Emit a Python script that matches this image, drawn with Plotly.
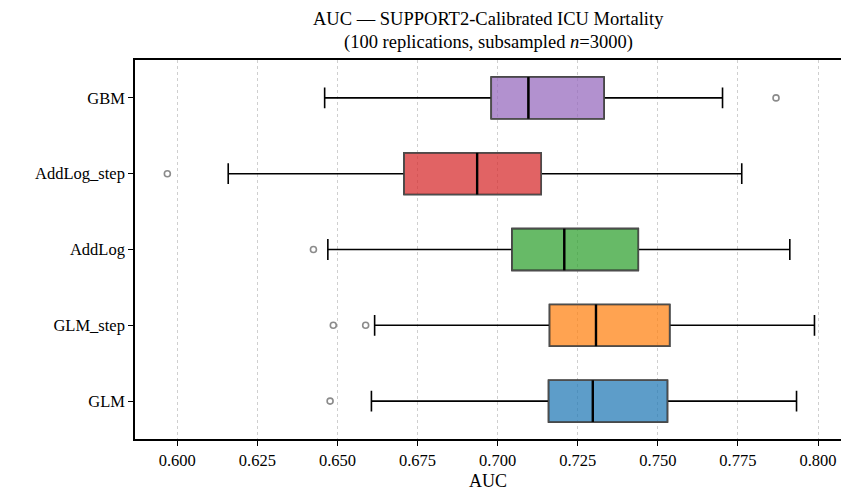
import plotly.graph_objects as go

# Models, bottom to top
models = ["GLM", "GLM_step", "AddLog", "AddLog_step", "GBM"]
colors = ["31,119,180", "255,127,14", "44,160,44", "214,39,40", "148,103,189"]

# Box statistics of AUC across replications
q1 = [0.7159, 0.7162, 0.7045, 0.6708, 0.6980]
median = [0.7297, 0.7307, 0.7208, 0.6936, 0.7096]
q3 = [0.7530, 0.7537, 0.7439, 0.7136, 0.7332]
lower_whisker = [0.6606, 0.6616, 0.6470, 0.6159, 0.6460]
upper_whisker = [0.7933, 0.7989, 0.7912, 0.7762, 0.7702]

# Outlying replications (model index, AUC)
outlier_model = [0, 1, 1, 2, 3, 4]
outlier_auc = [0.6477, 0.6487, 0.6588, 0.6425, 0.5969, 0.7869]

xticks = [0.600, 0.625, 0.650, 0.675, 0.700, 0.725, 0.750, 0.775, 0.800]

title_lines = ["AUC — SUPPORT2-Calibrated ICU Mortality",
               "(100 replications, subsampled <i>n</i>=3000)"]

BOX_W = 0.55
FONT = "Liberation Serif"

fig = go.Figure()
positions = list(range(1, len(models) + 1))

for i, pos in enumerate(positions):
    # whiskers and caps
    fig.add_trace(go.Box(
        y=[pos], q1=[q1[i]], median=[median[i]], q3=[q3[i]],
        lowerfence=[lower_whisker[i]], upperfence=[upper_whisker[i]],
        orientation="h", width=BOX_W, whiskerwidth=0.5,
        fillcolor="rgba(0,0,0,0)", line=dict(color="black", width=1.6),
        boxpoints=False, showlegend=False, hoverinfo="skip",
    ))
    # filled interquartile box
    fig.add_trace(go.Box(
        y=[pos], q1=[q1[i]], median=[median[i]], q3=[q3[i]],
        lowerfence=[q1[i]], upperfence=[q3[i]],
        orientation="h", width=BOX_W, whiskerwidth=0,
        fillcolor=f"rgba({colors[i]},0.72)", line=dict(color="#4d4d4d", width=1.6),
        boxpoints=False, showlegend=False, hoverinfo="skip",
    ))
    # median line
    fig.add_trace(go.Scatter(
        x=[median[i], median[i]], y=[pos - BOX_W / 2, pos + BOX_W / 2],
        mode="lines", line=dict(color="black", width=2.4),
        showlegend=False, hoverinfo="skip",
    ))

fig.add_trace(go.Scatter(
    x=outlier_auc, y=[positions[k] for k in outlier_model],
    mode="markers",
    marker=dict(symbol="circle-open", size=6, color="rgba(110,110,110,0.8)",
                line=dict(width=1.6, color="rgba(110,110,110,0.8)")),
    showlegend=False, hoverinfo="skip",
))

# two-line title placed above the plot area
for text, ypos in zip(title_lines, [1.108, 1.047]):
    fig.add_annotation(
        text=text, xref="paper", yref="paper", x=0.5, y=ypos,
        xanchor="center", yanchor="middle", showarrow=False,
        font=dict(family=FONT, size=18.5, color="black"),
    )

fig.update_layout(
    width=841, height=497,
    margin=dict(l=135, r=0, t=60, b=58),
    paper_bgcolor="white", plot_bgcolor="white",
    boxmode="overlay",
    font=dict(family=FONT, color="black", size=16),
)

fig.update_xaxes(
    range=[0.5868, 0.80718],
    tickvals=xticks, ticktext=[f"{v:.3f}" for v in xticks],
    ticks="outside", ticklen=5, tickwidth=1.2, tickcolor="black",
    showline=True, linecolor="black", linewidth=1.5, mirror=True,
    showgrid=True, gridcolor="#cfcfcf", griddash="dot", gridwidth=1,
    zeroline=False,
    tickfont=dict(family=FONT, size=16.5),
    title=dict(text="AUC", font=dict(family=FONT, size=18), standoff=6),
)
fig.update_yaxes(
    range=[0.5, 5.5],
    tickvals=positions, ticktext=models,
    ticks="outside", ticklen=5, tickwidth=1.2, tickcolor="black",
    showline=True, linecolor="black", linewidth=1.5, mirror=False,
    showgrid=False, zeroline=False,
    tickfont=dict(family=FONT, size=16.5),
)

fig.write_html("out.html")
